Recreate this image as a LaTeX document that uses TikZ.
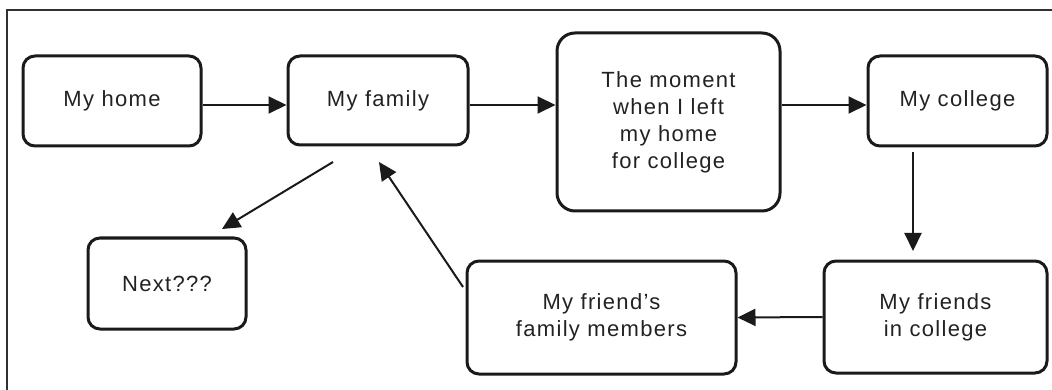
\documentclass[tikz,border=0pt]{standalone}
\usepackage{fontspec}
\setmainfont{Liberation Sans}[LetterSpace=6]
\usetikzlibrary{arrows.meta}
\definecolor{inkc}{HTML}{1A1A1A}
\definecolor{txtc}{HTML}{222222}
\begin{document}
\begin{tikzpicture}[x=1pt,y=-1pt,
  box/.style={draw=inkc, line width=3pt, rounded corners=12pt, inner sep=0pt,
    align=center, text=txtc, font=\fontsize{22}{27}\selectfont},
  arr/.style={draw=inkc, line width=2pt, -{Triangle[length=18pt,width=17pt]}},
  frame/.style={draw=inkc!90, line width=2pt}]
\useasboundingbox (0,0) rectangle (1052,390);
% outer frame (top and left visible)
\coordinate (fbl) at (7,390);
\coordinate (ftl) at (7,10);
\coordinate (ftr) at (1052,10);
\draw[frame] (fbl) -- (ftl) -- (ftr);

\node[box, minimum width=178pt, minimum height=90pt] (home) at (112,101) {My home};
\node[box, minimum width=180pt, minimum height=89pt] (family) at (378,100.5) {My family};
\node[box, minimum width=223pt, minimum height=178pt, rounded corners=18pt] (moment) at (668.5,122)
  {The moment\\when I left\\my home\\for college};
\node[box, minimum width=179pt, minimum height=90pt] (college) at (957.5,101) {My college};
\node[box, minimum width=223pt, minimum height=112pt] (friends) at (935.5,317) {My friends\\in college};
\node[box, minimum width=269pt, minimum height=113pt] (fmem) at (601.5,317.5) {My friend’s\\family members};
\node[box, minimum width=158pt, minimum height=91pt] (next) at (167,283.5) {Next???};

\coordinate (ay) at (0,105);
\draw[arr] (home.east |- ay) -- (family.west |- ay);
\draw[arr] (family.east |- ay) -- (moment.west |- ay);
\draw[arr] (moment.east |- ay) -- (college.west |- ay);

\coordinate (cds) at (913,152);
\coordinate (cde) at (913,251);
\draw[arr] (cds) -- (cde);

\draw[arr] (friends.west) -- (fmem.east);

\coordinate (nxs) at (333,162);
\coordinate (nxe) at (222,229);
\draw[arr] (nxs) -- (nxe);

\coordinate (fms) at (463,287);
\coordinate (fme) at (379,162);
\draw[arr] (fms) -- (fme);
\end{tikzpicture}
\end{document}
